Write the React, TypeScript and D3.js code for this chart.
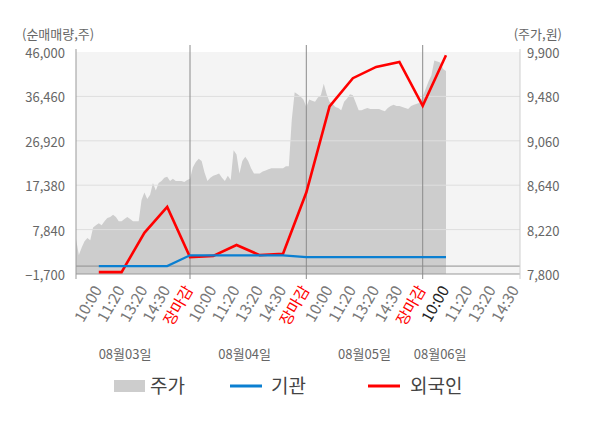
import React from "react";
import * as d3 from "d3";

// ---- data ----
const volumeTicks = [46000, 36460, 26920, 17380, 7840, -1700];
const priceTicks = [9900, 9480, 9060, 8640, 8220, 7800];
const dates = ["08월03일", "08월04일", "08월05일", "08월06일"];
const sessionLabels = ["10:00", "11:20", "13:20", "14:30", "장마감"];
const lastDayLabels = ["10:00", "11:20", "13:20", "14:30"];
// net volume at each labelled slot (10:00 day1 ... 10:00 day4)
const institution = [0, 0, 0, 0, 2320, 2300, 2300, 2300, 2300, 1930, 1930, 1930, 1930, 1930, 1930, 1930];
const foreign = [-1300, -1300, 7150, 12700, 1930, 2200, 4530, 2350, 2650, 15800, 34300, 40370, 42800, 43850, 34450, 45300];
// intraday price, 8 samples per slot
const pricesDay1 = [8130, 7980, 8050, 8110, 8140, 8120, 8240, 8260, 8280, 8260, 8300, 8330, 8340, 8360, 8340, 8300, 8300, 8320, 8340, 8320, 8300, 8300, 8300, 8500, 8570, 8510, 8550, 8660, 8590, 8660, 8680, 8710, 8720, 8680, 8700, 8680, 8680, 8680, 8670, 8690];
const pricesDay2 = [8700, 8810, 8860, 8890, 8870, 8760, 8680, 8710, 8730, 8740, 8750, 8710, 8680, 8730, 8690, 8970, 8930, 8750, 8870, 8910, 8870, 8800, 8750, 8750, 8750, 8770, 8780, 8790, 8800, 8800, 8800, 8800, 8800, 8820, 8820, 9260, 9520, 9500, 9480, 9450];
const pricesDay3 = [9380, 9450, 9440, 9430, 9470, 9490, 9600, 9500, 9430, 9410, 9380, 9370, 9350, 9430, 9460, 9500, 9490, 9420, 9350, 9350, 9360, 9370, 9360, 9360, 9360, 9360, 9350, 9340, 9370, 9390, 9400, 9390, 9390, 9380, 9370, 9360, 9390, 9400, 9410, 9420];
const pricesDay4 = [9480, 9550, 9620, 9680, 9820, 9810, 9800, 9740, 9720];

const FONT = "'Noto Sans CJK KR', 'Noto Sans', sans-serif";

export default function App() {
  const W = 600, H = 428;
  const top = 52, bottom = 274, left = 76, right = 520;
  const x = d3.scaleLinear().domain([0, 5, 10, 15, 19.18]).range([left, 190, 306.3, 422.7, right]);
  const yV = d3.scaleLinear().domain([-1700, 46000]).range([bottom, top]);
  const yP = d3.scaleLinear().domain([7800, 9900]).range([bottom, top]);

  const prices = [...pricesDay1, ...pricesDay2, ...pricesDay3, ...pricesDay4];
  const area = d3.area<number>()
    .x((_, i) => x(i / 8))
    .y0(bottom)
    .y1((d) => yP(d));
  const line = d3.line<number>().x((_, i) => x(i + 1)).y((d) => yV(d));

  const fmt = d3.format(",");
  const ticks: { u: number; label: string; color: string }[] = [];
  for (let d = 0; d < 3; d++) {
    sessionLabels.forEach((l, k) => ticks.push({ u: d * 5 + k + 1, label: l, color: l === "장마감" ? "#ff0000" : "#777" }));
  }
  lastDayLabels.forEach((l, k) => ticks.push({ u: 15 + k + 1, label: l, color: k === 0 ? "#222" : "#777" }));
  const dateLabelUnits = [2.15, 7.35, 12.5, 15.75];
  const dayLines = [5, 10, 15];

  return (
    <svg width={W} height={H} style={{ position: "absolute", left: 0, top: 0, fontFamily: FONT }}>
      <rect x={0} y={0} width={W} height={H} fill="#fff" />
      <rect x={left} y={top} width={right - left} height={bottom - top} fill="#f4f4f4" />
      <path d={area(prices) || ""} fill="#cdcdcd" />
      {volumeTicks.slice(1, 5).map((v) => (
        <line key={v} x1={left} x2={right} y1={yV(v)} y2={yV(v)} stroke="#dedede" strokeWidth={1} />
      ))}
      <line x1={left} x2={right} y1={yV(0)} y2={yV(0)} stroke="#8f8f8f" strokeWidth={1} />
      <line x1={left} x2={right} y1={bottom} y2={bottom} stroke="#999" strokeWidth={1} />
      {dayLines.map((u) => (
        <line key={u} x1={x(u)} x2={x(u)} y1={45} y2={279} stroke="#8a8a8a" strokeWidth={1} />
      ))}
      <line x1={left} x2={left} y1={49} y2={279} stroke="#999" strokeWidth={1} />
      <line x1={right} x2={right} y1={49} y2={279} stroke="#cfcfcf" strokeWidth={1} />

      <path d={line(foreign) || ""} fill="none" stroke="#ff0000" strokeWidth={2.6} strokeLinejoin="miter" />
      <path d={line(institution) || ""} fill="none" stroke="#0a7fd1" strokeWidth={2.2} />

      {volumeTicks.map((v) => (
        <text key={v} x={65} y={yV(v) + 1.5} dy="0.35em" textAnchor="end" fontSize={13} fill="#666">{fmt(v)}</text>
      ))}
      {priceTicks.map((v) => (
        <text key={v} x={527} y={yP(v) + 1.5} dy="0.35em" textAnchor="start" fontSize={13} fill="#666">{fmt(v)}</text>
      ))}
      <text x={22} y={34} dy="0.35em" fontSize={13} fill="#666">(순매매량,주)</text>
      <text x={562} y={34} dy="0.35em" textAnchor="end" fontSize={13} fill="#666">(주가,원)</text>

      {ticks.map((t) => (
        <text key={t.u} transform={`translate(${x(t.u) - 1},287) rotate(-60)`} dy="0.35em" textAnchor="end" fontSize={15.5} fill={t.color}>{t.label}</text>
      ))}
      {dates.map((d, i) => (
        <text key={d} x={x(dateLabelUnits[i])} y={354} dy="0.35em" textAnchor="middle" fontSize={13} fill="#666">{d}</text>
      ))}

      <rect x={114} y={380} width={31} height={12} fill="#cdcdcd" />
      <text x={150} y={386} dy="0.35em" fontSize={19} fill="#444">주가</text>
      <line x1={230} x2={262} y1={386} y2={386} stroke="#0a7fd1" strokeWidth={3} />
      <text x={271} y={386} dy="0.35em" fontSize={19} fill="#444">기관</text>
      <line x1={368} x2={400} y1={386} y2={386} stroke="#ff0000" strokeWidth={3} />
      <text x={410} y={386} dy="0.35em" fontSize={19} fill="#444">외국인</text>
    </svg>
  );
}
